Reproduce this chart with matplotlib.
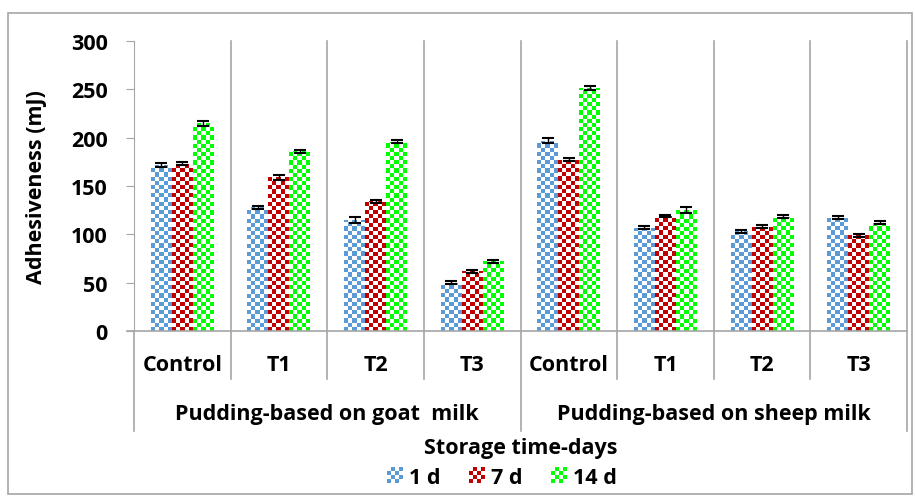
import numpy as np
import matplotlib
matplotlib.use("Agg")
import matplotlib.pyplot as plt
from matplotlib.patches import Rectangle
from matplotlib.legend_handler import HandlerBase
from matplotlib.transforms import blended_transform_factory

plt.rcParams['font.family'] = ['Open Sans', 'DejaVu Sans']
plt.rcParams['font.weight'] = 'bold'

categories = ['Control', 'T1', 'T2', 'T3', 'Control', 'T1', 'T2', 'T3']
groups = ['Pudding-based on goat  milk', 'Pudding-based on sheep milk']
series = ['1 d', '7 d', '14 d']
day1 = [172, 128, 115, 50, 197, 107, 103, 117]
day7 = [173, 159, 134, 62, 177, 119, 108, 99]
day14 = [215, 186, 196, 72, 251, 125, 118, 112]
err1 = [2, 1.5, 3, 1.5, 2.5, 1.5, 1.5, 1.5]
err7 = [1.5, 2.5, 2, 1.5, 1.5, 1.5, 1.5, 1.5]
err14 = [2.5, 1.5, 1.5, 1.5, 2, 3, 1.5, 1.5]
colors = ['#5B9BD5', '#C00000', '#00FF00']

grey = '#A6A6A6'
fs = 15.5
fig = plt.figure(figsize=(9.15, 5.02), dpi=100)
ax = fig.add_axes([134 / 915, 1 - 332 / 502, 773 / 915, 290 / 502])
ax.set_xlim(0, len(categories))
ax.set_ylim(0, 300)

x = np.arange(len(categories)) + 0.5
bw = 0.217
cell_x, cell_y = 0.043, 4.3


def checker_bar(x0, h, color):
    rect = Rectangle((x0, 0), bw, h, facecolor='none', edgecolor='none')
    ax.add_patch(rect)
    nx = max(1, int(round(bw / cell_x)))
    ny = max(1, int(np.ceil(h / cell_y)))
    ii, jj = np.indices((ny, nx))
    mask = (ii + jj) % 2 == 0
    rgb = np.ones((ny, nx, 3))
    rgb[mask] = matplotlib.colors.to_rgb(color)
    im = ax.imshow(rgb, extent=(x0, x0 + bw, 0, ny * cell_y), origin='lower',
                   aspect='auto', interpolation='nearest', zorder=2)
    im.set_clip_path(rect)


for k, (vals, errs, c) in enumerate(zip([day1, day7, day14], [err1, err7, err14], colors)):
    offs = (k - 1) * bw
    for xi, v in zip(x, vals):
        checker_bar(xi + offs - bw / 2, v, c)
    ax.errorbar(x + offs, vals, yerr=errs, fmt='none', ecolor='black',
                elinewidth=1.0, capsize=4.3, capthick=1.5, zorder=3)

ax.set_xlim(0, len(categories))
ax.set_ylim(0, 300)

for s in ['top', 'right', 'bottom']:
    ax.spines[s].set_visible(False)
ax.spines['left'].set_color(grey)
ax.set_xticks([])
ax.set_yticks(np.arange(0, 301, 50))
ax.tick_params(axis='y', length=6, color=grey, labelsize=fs, pad=13)
for t in ax.get_yticklabels():
    t.set_fontweight('bold')
ax.set_ylabel('Adhesiveness (mJ)', fontsize=fs, fontweight='bold')
ax.yaxis.set_label_coords(-0.112, 0.5)

# category axis lines
tr = blended_transform_factory(ax.transData, ax.transAxes)
ax.plot([-0.07, 8], [0, 0], color=grey, lw=1.2, transform=tr, clip_on=False)
for b in range(1, len(categories)):
    bottom = -0.345 if b == 4 else -0.165
    ax.plot([b, b], [1, bottom], color=grey, lw=1.2, transform=tr, clip_on=False, zorder=1)
for b in [0, 8]:
    ax.plot([b, b], [1 if b == 8 else 0, -0.345], color=grey, lw=1.2,
            transform=tr, clip_on=False)

for xi, c in zip(x, categories):
    ax.text(xi, -0.114, c, transform=tr, ha='center', va='center',
            fontsize=fs, fontweight='bold')
for g, name in enumerate(groups):
    ax.text(2 + 4 * g, -0.285, name, transform=tr, ha='center', va='center',
            fontsize=fs, fontweight='bold')

fig.text(521 / 915, 1 - 449 / 502, 'Storage time-days', ha='center', va='center',
         fontsize=fs, fontweight='bold')


class CheckerHandler(HandlerBase):
    def __init__(self, color):
        super().__init__()
        self.color = color

    def create_artists(self, legend, orig_handle, xdescent, ydescent, width, height,
                       fontsize, trans):
        n = 4
        side = min(width, height * 1.05)
        x0 = -xdescent + (width - side) / 2
        y0 = -ydescent + (height - side) / 2
        d = side / n
        arts = []
        for i in range(n):
            for j in range(n):
                fc = self.color if (i + j) % 2 == 0 else 'white'
                arts.append(Rectangle((x0 + j * d, y0 + i * d), d, d, facecolor=fc,
                                      edgecolor='none', transform=trans))
        return arts


handles = [Rectangle((0, 0), 1, 1) for _ in series]
fig.legend(handles, series, loc='center', bbox_to_anchor=(502 / 915, 1 - 478 / 502),
           ncol=3, frameon=False, handlelength=0.75, handletextpad=0.3,
           columnspacing=1.3, borderpad=0.2, prop={'weight': 'bold', 'size': fs},
           handler_map={h: CheckerHandler(c) for h, c in zip(handles, colors)})

fig.add_artist(Rectangle((8 / 915, 1 - 495 / 502), 904 / 915, 481 / 502,
                         transform=fig.transFigure, facecolor='none',
                         edgecolor=grey, lw=1.2))

fig.savefig('out.png', dpi=100)
